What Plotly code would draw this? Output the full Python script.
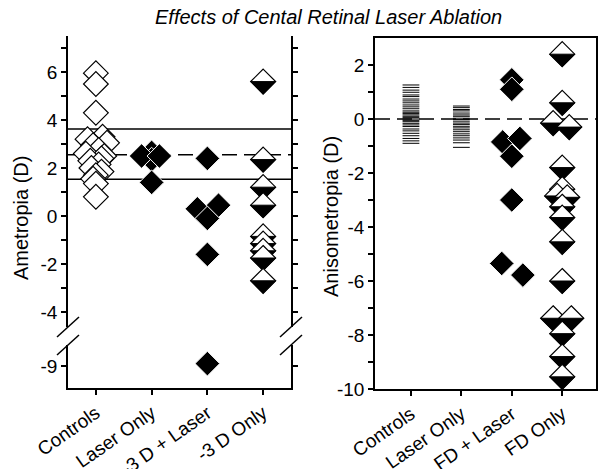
import plotly.graph_objects as go

W, H = 598, 469

left_categories = ["Controls", "Laser Only", "-3 D + Laser", "-3 D Only"]
right_categories = ["Controls", "Laser Only", "FD + Laser", "FD Only"]

# ---------------- Ametropia (D), left panel ----------------
amet_controls = [5.95, 5.5, 4.3, 3.3, 3.2, 3.05, 2.95, 2.75, 2.6, 2.5, 2.4,
                 2.3, 2.15, 2.0, 1.85, 1.7, 1.55, 1.35, 0.8]
amet_controls_jitter = [0, 0, 0, 0.12, -0.15, 0.2, -0.05, 0.05, -0.18, 0.15,
                        0.1, -0.1, 0.05, -0.08, 0.1, 0, -0.05, 0, 0]
amet_laser = [2.65, 2.35, 2.5, 2.5, 1.4]
amet_laser_jitter = [0, 0, -0.18, 0.14, 0]
amet_m3laser = [2.4, 0.3, 0.45, -0.1, -1.6, -8.9]
amet_m3laser_jitter = [0, -0.18, 0.2, 0, 0, 0]
amet_m3only = [5.6, 2.35, 1.2, 0.45, -0.85, -1.15, -1.45, -1.75, -2.7]
amet_m3only_jitter = [0, 0, 0, 0, 0, 0, 0, 0, 0]
control_mean = 2.55
control_upper = 3.63
control_lower = 1.53
break_value = -6.0  # values below go on the lower (broken) axis

# ---------------- Anisometropia (D), right panel ----------------
aniso_controls = [1.26, 1.17, 1.07, 0.99, 0.89, 0.83, 0.74, 0.67, 0.6, 0.52,
                  0.45, 0.38, 0.3, 0.25, 0.2, 0.15, 0.1, 0.05, 0.0, -0.05,
                  -0.1, -0.16, -0.22, -0.28, -0.37, -0.44, -0.53, -0.62,
                  -0.72, -0.81, -0.9]
aniso_laser = [0.48, 0.42, 0.35, 0.3, 0.22, 0.15, 0.1, 0.03, -0.02, -0.08,
               -0.15, -0.2, -0.27, -0.33, -0.4, -0.47, -0.55, -0.62, -0.7,
               -0.78, -0.88, -1.05]
aniso_fdlaser = [1.45, 1.1, -0.85, -0.72, -1.38, -3.0, -5.35, -5.78]
aniso_fdlaser_jitter = [0, 0, -0.18, 0.16, 0, 0, -0.2, 0.22]
aniso_fd = [2.4, 0.6, -0.15, -0.3, -1.8, -2.6, -2.85, -2.9, -3.25, -3.65,
            -4.55, -6.0, -7.38, -7.38, -7.95, -8.8, -9.55]
aniso_fd_jitter = [0, 0, -0.18, 0.14, 0, 0, -0.1, 0.1, 0, 0, 0, 0, -0.18,
                   0.18, 0, 0, 0]
aniso_ref = 0.0

FONT = "Liberation Sans, Arial, sans-serif"
TICKFONT = dict(family=FONT, size=19, color="black")


def px_x(p):
    return p / W


def px_y(p):
    return 1 - p / H


fig = go.Figure()


def split(vals, jit, cat):
    up_x, up_y, lo_x, lo_y = [], [], [], []
    for v, j in zip(vals, jit):
        if v < break_value:
            lo_x.append(cat + j)
            lo_y.append(v)
        else:
            up_x.append(cat + j)
            up_y.append(v)
    return up_x, up_y, lo_x, lo_y


open_marker = dict(symbol="diamond", size=19, color="white",
                   line=dict(color="black", width=1.2))
filled_marker = dict(symbol="diamond", size=19, color="black",
                     line=dict(color="white", width=1))

# left: controls
ux, uy, lx, ly = split(amet_controls, amet_controls_jitter, 0)
fig.add_trace(go.Scatter(x=ux, y=uy, mode="markers", marker=open_marker,
                         xaxis="x", yaxis="y", showlegend=False))
# left: laser only
ux, uy, lx, ly = split(amet_laser, amet_laser_jitter, 1)
fig.add_trace(go.Scatter(x=ux, y=uy, mode="markers", marker=filled_marker,
                         xaxis="x", yaxis="y", showlegend=False))
# left: -3 D + laser
ux, uy, lx, ly = split(amet_m3laser, amet_m3laser_jitter, 2)
fig.add_trace(go.Scatter(x=ux, y=uy, mode="markers", marker=filled_marker,
                         xaxis="x", yaxis="y", showlegend=False))
fig.add_trace(go.Scatter(x=lx, y=ly, mode="markers", marker=filled_marker,
                         xaxis="x", yaxis="y2", showlegend=False))

# right: controls & laser only (dashes)
dash_marker = dict(symbol="line-ew", size=12, color="black",
                   line=dict(color="black", width=1))
fig.add_trace(go.Scatter(x=[0] * len(aniso_controls), y=aniso_controls,
                         mode="markers", marker=dash_marker,
                         xaxis="x2", yaxis="y3", showlegend=False))
fig.add_trace(go.Scatter(x=[1] * len(aniso_laser), y=aniso_laser,
                         mode="markers", marker=dash_marker,
                         xaxis="x2", yaxis="y3", showlegend=False))
fig.add_trace(go.Scatter(x=[2 + j for j in aniso_fdlaser_jitter],
                         y=aniso_fdlaser, mode="markers", marker=filled_marker,
                         xaxis="x2", yaxis="y3", showlegend=False))

shapes = []

# reference lines (left)
for val, dash in [(control_upper, "solid"), (control_lower, "solid"),
                  (control_mean, "15px,7px")]:
    shapes.append(dict(type="line", xref="x domain", x0=0, x1=1, yref="y",
                       y0=val, y1=val, layer="below",
                       line=dict(color="black", width=1.5, dash=dash)))
# reference line (right)
shapes.append(dict(type="line", xref="x2 domain", x0=0, x1=1, yref="y3",
                   y0=aniso_ref, y1=aniso_ref, layer="below",
                   line=dict(color="black", width=1.5, dash="15px,7px")))

HD = 12.5
diamond_path = f"M0,{HD} L{HD},0 L0,{-HD} L{-HD},0 Z"
bottom_path = f"M{-HD},0 L{HD},0 L0,{-HD} Z"


def half_diamonds(vals, jit, cat, xref, yref):
    for v, j in zip(vals, jit):
        common = dict(type="path", xref=xref, yref=yref, xsizemode="pixel",
                      ysizemode="pixel", xanchor=cat + j, yanchor=v,
                      layer="above")
        shapes.append(dict(path=diamond_path, fillcolor="white",
                           line=dict(color="black", width=1.2), **common))
        shapes.append(dict(path=bottom_path, fillcolor="black",
                           line=dict(color="black", width=1), **common))


half_diamonds(amet_m3only, amet_m3only_jitter, 3, "x", "y")
half_diamonds(aniso_fd, aniso_fd_jitter, 3, "x2", "y3")

# axis break marks
slash = "M-11,-10 L11,10"
for xa in (0, 1):
    for yref, ya in (("y domain", 0), ("y2 domain", 1)):
        shapes.append(dict(type="path", path=slash, xref="x domain",
                           yref=yref, xsizemode="pixel", ysizemode="pixel",
                           xanchor=xa, yanchor=ya, layer="above",
                           line=dict(color="black", width=1.5)))

axis_common = dict(showgrid=False, zeroline=False, showline=True,
                   linecolor="black", linewidth=1.5, ticks="outside",
                   ticklen=5, tickwidth=1.5, tickcolor="black",
                   tickfont=TICKFONT, automargin=False)

left_yticks = list(range(-4, 8))
left_ytext = [str(t) if t % 2 == 0 else "" for t in left_yticks]
right_yticks = list(range(-10, 3))
right_ytext = [str(t) if t % 2 == 0 else "" for t in right_yticks]

fig.update_layout(
    width=W, height=H,
    margin=dict(l=0, r=0, t=0, b=0, autoexpand=False),
    paper_bgcolor="white", plot_bgcolor="white",
    showlegend=False,
    xaxis=dict(domain=[px_x(68), px_x(291)], range=[-0.5, 3.5], anchor="y2",
               tickmode="array", tickvals=[0, 1, 2, 3],
               ticktext=left_categories, tickangle=-35, **axis_common),
    xaxis3=dict(domain=[px_x(68), px_x(291)], range=[-0.5, 3.5], anchor="y",
                side="top", showline=True, linecolor="black", linewidth=1.5,
                showticklabels=False, ticks="", showgrid=False,
                zeroline=False),
    yaxis=dict(domain=[px_y(327), px_y(36)], range=[-4.625, 7.5], anchor="x",
               tickmode="array", tickvals=left_yticks, ticktext=left_ytext,
               mirror="ticks", **axis_common),
    yaxis2=dict(domain=[px_y(388), px_y(345)], range=[-9.917, -8.125],
                anchor="x", tickmode="array", tickvals=[-9], ticktext=["-9"],
                mirror="ticks", **axis_common),
    xaxis2=dict(domain=[px_x(375), px_x(596)], range=[-0.713, 3.67],
                anchor="y3", tickmode="array", tickvals=[0, 1, 2, 3],
                ticktext=right_categories, tickangle=-35, mirror=True,
                **axis_common),
    yaxis3=dict(domain=[px_y(389), px_y(38)], range=[-10, 3], anchor="x2",
                tickmode="array", tickvals=right_yticks,
                ticktext=right_ytext, mirror="ticks", **axis_common),
    shapes=shapes,
    annotations=[
        dict(text="<i>Effects of Cental Retinal Laser Ablation</i>",
             x=px_x(328.5), y=px_y(17), xref="paper", yref="paper",
             showarrow=False, xanchor="center", yanchor="middle",
             font=dict(family=FONT, size=20, color="black")),
        dict(text="Ametropia (D)", x=px_x(21), y=px_y(218), xref="paper",
             yref="paper", showarrow=False, textangle=-90,
             xanchor="center", yanchor="middle",
             font=dict(family=FONT, size=20, color="black")),
        dict(text="Anisometropia (D)", x=px_x(331), y=px_y(217),
             xref="paper", yref="paper", showarrow=False, textangle=-90,
             xanchor="center", yanchor="middle",
             font=dict(family=FONT, size=20, color="black")),
    ],
)

fig.write_html("out.html")
